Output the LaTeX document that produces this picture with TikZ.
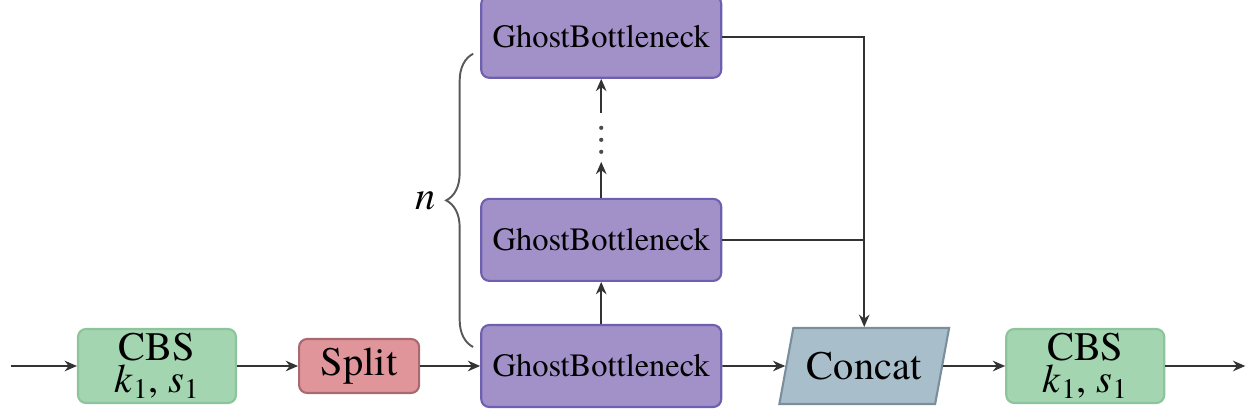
\documentclass[tikz,border=0pt]{standalone}
\usepackage{fontspec}
\IfFontExistsTF{texgyretermes-regular.otf}{%
  \setmainfont{texgyretermes}[Extension=.otf, UprightFont=*-regular,
    ItalicFont=*-italic, BoldFont=*-bold, BoldItalicFont=*-bolditalic]}{%
  \setmainfont{Liberation Serif}}
\usepackage{tikz}
\usetikzlibrary{shapes.geometric,arrows.meta,positioning,calc,decorations.pathreplacing}
\definecolor{CBSFill}{HTML}{A3D5B1}
\definecolor{CBSLine}{HTML}{8CC49C}
\definecolor{SplitFill}{HTML}{E0959B}
\definecolor{SplitLine}{HTML}{A86A70}
\definecolor{GhostFill}{HTML}{A291C8}
\definecolor{GhostLine}{HTML}{6F5FB0}
\definecolor{ConcatFill}{HTML}{A9BECB}
\definecolor{ConcatLine}{HTML}{7A8E9C}
\definecolor{WireGray}{HTML}{333333}
\tikzset{
    % Rounded blocks
    block/.style={
        rectangle,
        rounded corners=0.16cm,
        line width=1.2pt,
        inner sep=0pt,
        align=center,
        text=black
    },
    cbs block/.style={
        block,
        draw=CBSLine,
        fill=CBSFill,
        minimum width=3.16cm,
        minimum height=1.48cm,
        font=\fontsize{23}{18}\selectfont
    },
    split block/.style={
        block,
        draw=SplitLine,
        fill=SplitFill,
        minimum width=2.4cm,
        minimum height=1.08cm,
        font=\fontsize{23}{27}\selectfont
    },
    ghost block/.style={
        block,
        draw=GhostLine,
        fill=GhostFill,
        minimum width=4.8cm,
        minimum height=1.64cm,
        font=\fontsize{18.5}{22}\selectfont
    },
    concat block/.style={
        trapezium,
        trapezium left angle=68,
        trapezium right angle=112,
        trapezium stretches=true,
        draw=ConcatLine,
        fill=ConcatFill,
        line width=1.2pt,
        inner sep=0pt,
        minimum width=3.4cm,
        minimum height=1.52cm,
        font=\fontsize{23}{27}\selectfont
    },
    arrow/.style={
        -{Stealth[length=7pt,width=6pt]},
        line width=1.1pt,
        color=WireGray
    },
    wire/.style={
        line width=1.1pt,
        color=WireGray
    }
}

\begin{document}
\begin{tikzpicture}[node distance=1.2cm]
    \useasboundingbox (0,0) rectangle (25.18,8.26);

    % Nodes
    \node[cbs block] (cbsin) at (3.14,0.94) {CBS\\\textit{k}\textsubscript{1}, \textit{s}\textsubscript{1}};
    \node[split block, right=1.22cm of cbsin] (split) {Split};
    \node[ghost block, right=1.2cm of split] (gbbot) {GhostBottleneck};
    \node[ghost block, above=0.84cm of gbbot] (gbmid) {GhostBottleneck};
    \node[ghost block, above=2.38cm of gbmid] (gbtop) {GhostBottleneck};
    \node[concat block, right=1.26cm of gbbot] (concat) {Concat};
    \node[cbs block, right=1.24cm of concat] (cbsout) {CBS\\\textit{k}\textsubscript{1}, \textit{s}\textsubscript{1}};

    % Free ends
    \coordinate[left=1.32cm of cbsin] (input);
    \coordinate[right=1.6cm of cbsout] (output);
    \coordinate[above=0.72cm of gbmid.north] (dotsbot);
    \coordinate[below=0.68cm of gbtop.south] (dotstop);
    \coordinate (bracebot) at ($(gbbot.west)+(-0.14,0.38)$);
    \coordinate (bracetop) at ($(gbtop.west)+(-0.14,-0.34)$);

    % Arrows
    \draw[arrow] (input) -- (cbsin);
    \draw[arrow] (cbsin) -- (split);
    \draw[arrow] (split) -- (gbbot);
    \draw[arrow] (gbbot) -- (concat);
    \draw[arrow] (concat) -- (cbsout);
    \draw[arrow] (cbsout) -- (output);
    \draw[arrow] (gbbot) -- (gbmid);
    \draw[arrow] (gbmid) -- (dotsbot);
    \draw[arrow] (dotstop) -- (gbtop);
    \draw[wire, line cap=round, dash pattern=on 0pt off 0.24cm, line width=2.4pt, color=gray!60!black]
        ($(dotsbot)+(0,0.2)$) -- ($(dotstop)+(0,-0.1)$);
    \draw[arrow] (gbtop.east) -| (concat.north);
    \draw[wire] (gbmid.east) -- (gbmid.east -| concat.north);

    % Repeat brace
    \draw[line width=1.1pt, color=gray!70!black, decorate,
        decoration={brace, amplitude=0.54cm}] (bracebot) -- (bracetop)
        node[midway, left=0.62cm, text=black, font=\fontsize{23}{27}\selectfont\itshape] (reps) {n};
\end{tikzpicture}
\end{document}
